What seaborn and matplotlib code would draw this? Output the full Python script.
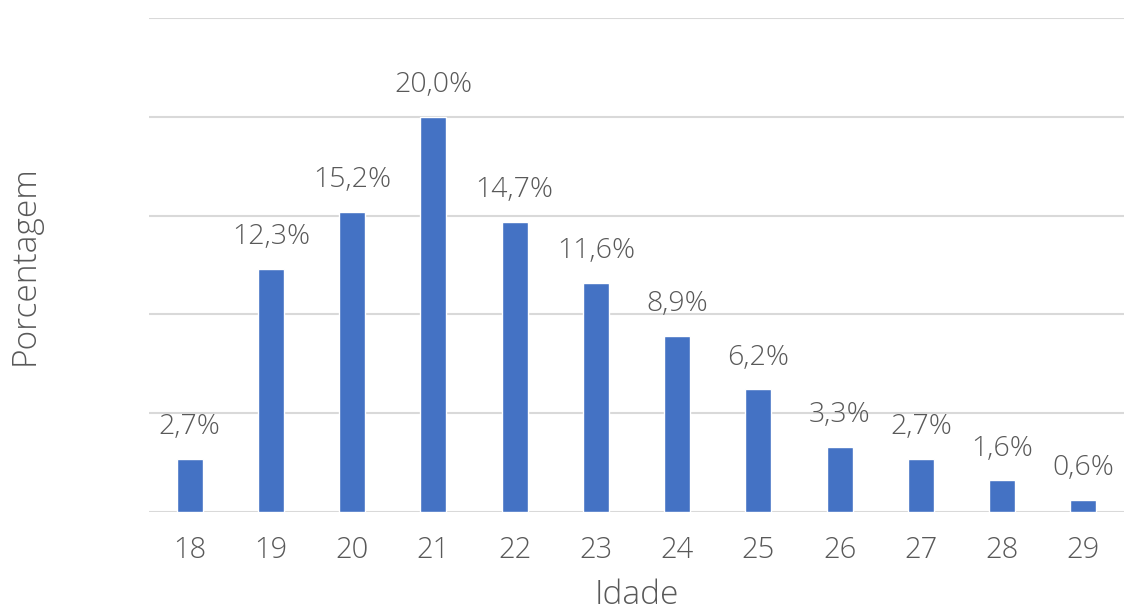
import pandas as pd
import matplotlib
matplotlib.use("Agg")
import matplotlib.pyplot as plt
import seaborn as sns

# dados
idades = ["18", "19", "20", "21", "22", "23", "24", "25", "26", "27", "28", "29"]
porcentagens = [2.7, 12.3, 15.2, 20.0, 14.7, 11.6, 8.9, 6.2, 3.3, 2.7, 1.6, 0.6]

df = pd.DataFrame({"Idade": idades, "Porcentagem": porcentagens})

sns.set_theme(style="white")
plt.rcParams["font.family"] = ["Open Sans", "DejaVu Sans"]
plt.rcParams["font.weight"] = "light"
cinza = "#595959"

fig = plt.figure(figsize=(11.24, 6.10), dpi=100)
ax = fig.add_axes([0.1326, 0.1607, 0.8674, 0.8098])

sns.barplot(data=df, x="Idade", y="Porcentagem", color="#4472C4",
            saturation=1, width=0.32, ax=ax, zorder=3)

ax.set_ylim(0, 25)
ax.set_yticks([0, 5, 10, 15, 20, 25])
ax.yaxis.grid(True, color="#D9D9D9", linewidth=1.5, zorder=0)
ax.set_yticklabels([])
ax.tick_params(axis="y", length=0)
ax.tick_params(axis="x", length=0, labelsize=21, colors=cinza, pad=17)
for lbl in ax.get_xticklabels():
    lbl.set_fontweight("light")
for s in ax.spines.values():
    s.set_visible(False)

for i, v in enumerate(porcentagens):
    ax.text(i, v + 0.9, f"{v:.1f}%".replace(".", ","), ha="center", va="bottom",
            fontsize=20.5, color=cinza, fontweight="light")

ax.set_xlabel("")
ax.set_ylabel("")
fig.text(0.5667, 6 / 610, "Idade", ha="center", va="baseline",
         fontsize=24, color=cinza, fontweight="light")
fig.text(25 / 1124, 0.566, "Porcentagem", ha="center", va="center", rotation=90,
         fontsize=24, color=cinza, fontweight="light")

fig.savefig("out.png", dpi=100)
